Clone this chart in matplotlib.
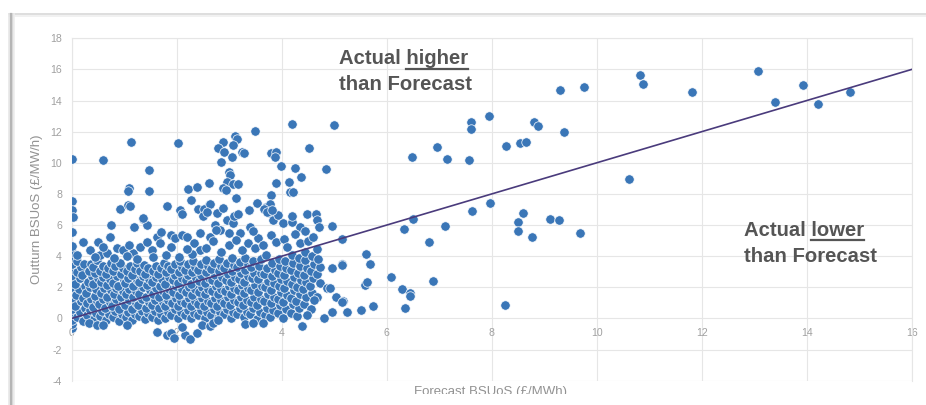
import matplotlib
matplotlib.use("Agg")
import matplotlib.pyplot as plt
from matplotlib.lines import Line2D
from matplotlib.patches import Rectangle

plt.rcParams['font.family'] = ['Liberation Sans', 'DejaVu Sans']

# ---------------- data ----------------
x_ticks = [0, 2, 4, 6, 8, 10, 12, 14, 16]
x_tick_labels = ["0", "2", "4", "6", "8", "10", "12", "14", "16"]
y_ticks = [-4, -2, 0, 2, 4, 6, 8, 10, 12, 14, 16, 18]
y_tick_labels = ["-4", "-2", "0", "2", "4", "6", "8", "10", "12", "14", "16", "18"]

x_label = "Forecast BSUoS (£/MWh)"
y_label = "Outturn BSUoS (£/MW/h)"

# parity line (actual = forecast)
parity_x = [0, 16]
parity_y = [0, 16]

# bulk of the settlement periods: (forecast, outturn)
core_points = [
    # forecast 0 - 0.25
    (0.0, -0.62), (0.0, -0.36), (0.0, -0.08), (0.0, 0.27), (0.0, 0.58), (0.0, 0.97),
    (0.0, 1.28), (0.0, 1.7), (0.0, 2.02), (0.0, 2.43), (0.0, 2.75), (0.0, 3.18),
    (0.0, 3.48), (0.0, 3.92), (0.0, 4.3),
    (0.1, 0.07), (0.15, 0.4), (0.07, 0.83), (0.17, 1.1), (0.09, 1.52), (0.13, 1.86),
    (0.06, 2.24), (0.16, 2.58), (0.1, 3.0), (0.18, 3.3), (0.11, 3.68),
    (0.22, -0.16), (0.25, 0.66), (0.21, 1.33), (0.26, 2.07), (0.2, 2.81), (0.24, 3.47),
    # 0.25 - 0.5
    (0.3, 0.2), (0.34, 0.52), (0.29, 0.97), (0.37, 1.27), (0.28, 1.64), (0.35, 2.03),
    (0.31, 2.36), (0.38, 2.75), (0.32, 3.08), (0.36, 3.53),
    (0.43, -0.03), (0.46, 0.37), (0.4, 0.72), (0.49, 1.14), (0.44, 1.46), (0.47, 1.88),
    (0.41, 2.19), (0.5, 2.57), (0.45, 2.9), (0.4, 3.29), (0.48, 3.73),
    # 0.5 - 0.75
    (0.54, 0.14), (0.58, 0.47), (0.52, 0.9), (0.6, 1.23), (0.55, 1.62), (0.61, 1.96),
    (0.56, 2.37), (0.59, 2.68), (0.53, 3.07), (0.6, 3.4),
    (0.66, -0.12), (0.71, 0.31), (0.64, 0.66), (0.73, 1.07), (0.68, 1.41), (0.74, 1.8),
    (0.67, 2.13), (0.72, 2.54), (0.65, 2.86), (0.7, 3.24), (0.75, 3.58),
    # 0.75 - 1.0
    (0.79, 0.09), (0.83, 0.49), (0.77, 0.83), (0.84, 1.22), (0.8, 1.56), (0.85, 1.97),
    (0.78, 2.28), (0.86, 2.7), (0.79, 3.03), (0.83, 3.4),
    (0.91, -0.16), (0.96, 0.26), (0.9, 0.63), (0.98, 1.04), (0.93, 1.36), (0.97, 1.77),
    (0.89, 2.1), (0.99, 2.5), (0.94, 2.83), (0.98, 3.22), (0.92, 3.56),
    # 1.0 - 1.25
    (1.03, 0.11), (1.08, 0.44), (1.01, 0.84), (1.09, 1.17), (1.04, 1.57), (1.1, 1.89),
    (1.02, 2.3), (1.07, 2.6), (1.05, 3.02), (1.11, 3.34),
    (1.15, -0.13), (1.2, 0.29), (1.14, 0.63), (1.22, 1.02), (1.16, 1.37), (1.23, 1.74),
    (1.17, 2.08), (1.24, 2.47), (1.15, 2.79), (1.21, 3.17), (1.25, 3.54),
    # 1.25 - 1.5
    (1.28, 0.13), (1.33, 0.51), (1.27, 0.86), (1.34, 1.24), (1.29, 1.58), (1.35, 1.99),
    (1.28, 2.31), (1.36, 2.72), (1.3, 3.04), (1.37, 3.43),
    (1.4, -0.06), (1.46, 0.32), (1.41, 0.68), (1.48, 1.07), (1.42, 1.41), (1.49, 1.8),
    (1.43, 2.14), (1.47, 2.53), (1.4, 2.87), (1.46, 3.26),
    # 1.5 - 1.75
    (1.53, 0.11), (1.58, 0.46), (1.52, 0.87), (1.59, 1.19), (1.54, 1.6), (1.6, 1.93),
    (1.53, 2.32), (1.61, 2.66), (1.55, 3.04), (1.6, 3.39),
    (1.65, -0.09), (1.71, 0.29), (1.66, 0.64), (1.73, 1.04), (1.67, 1.38), (1.74, 1.77),
    (1.68, 2.11), (1.72, 2.52), (1.65, 2.84), (1.71, 3.22), (1.75, 3.58),
    # 1.75 - 2.0
    (1.78, 0.06), (1.83, 0.43), (1.77, 0.79), (1.84, 1.17), (1.79, 1.51), (1.85, 1.92),
    (1.78, 2.24), (1.86, 2.64), (1.8, 2.97), (1.84, 3.37),
    (1.9, 0.21), (1.96, 0.58), (1.91, 0.99), (1.98, 1.31), (1.92, 1.72), (1.99, 2.06),
    (1.93, 2.46), (1.97, 2.79), (1.9, 3.17), (1.96, 3.5),
    # 2.0 - 2.25
    (2.03, 0.03), (2.08, 0.39), (2.02, 0.8), (2.09, 1.13), (2.04, 1.52), (2.1, 1.86),
    (2.03, 2.27), (2.11, 2.59), (2.05, 2.97), (2.1, 3.31), (2.06, 3.71),
    (2.15, 0.21), (2.21, 0.57), (2.16, 0.97), (2.23, 1.31), (2.17, 1.72), (2.24, 2.04),
    (2.18, 2.44), (2.22, 2.77), (2.15, 3.14), (2.21, 3.49),
    # 2.25 - 2.5
    (2.28, 0.01), (2.33, 0.37), (2.27, 0.77), (2.34, 1.11), (2.29, 1.52), (2.35, 1.86),
    (2.28, 2.24), (2.36, 2.59), (2.3, 2.97), (2.35, 3.29), (2.31, 3.69),
    (2.4, 0.19), (2.46, 0.54), (2.41, 0.94), (2.48, 1.29), (2.42, 1.7), (2.49, 2.03),
    (2.43, 2.42), (2.47, 2.77), (2.4, 3.14), (2.46, 3.49),
    # 2.5 - 2.75
    (2.53, 0.06), (2.58, 0.39), (2.52, 0.8), (2.59, 1.14), (2.54, 1.54), (2.6, 1.88),
    (2.53, 2.27), (2.61, 2.6), (2.55, 3.0), (2.6, 3.34), (2.56, 3.76),
    (2.65, 0.23), (2.71, 0.59), (2.66, 1.0), (2.73, 1.34), (2.67, 1.74), (2.74, 2.07),
    (2.68, 2.47), (2.72, 2.81), (2.65, 3.2), (2.71, 3.54),
    # 2.75 - 3.0
    (2.78, 0.06), (2.83, 0.41), (2.77, 0.82), (2.84, 1.17), (2.79, 1.57), (2.85, 1.91),
    (2.78, 2.3), (2.86, 2.64), (2.8, 3.02), (2.85, 3.37), (2.81, 3.79),
    (2.9, 0.26), (2.96, 0.61), (2.91, 1.02), (2.98, 1.37), (2.92, 1.77), (2.99, 2.11),
    (2.93, 2.5), (2.97, 2.84), (2.9, 3.24), (2.96, 3.59),
    # 3.0 - 3.25
    (3.03, 0.06), (3.08, 0.44), (3.02, 0.84), (3.09, 1.19), (3.04, 1.6), (3.1, 1.94),
    (3.03, 2.34), (3.11, 2.69), (3.05, 3.07), (3.1, 3.41), (3.06, 3.86),
    (3.15, 0.26), (3.21, 0.64), (3.16, 1.04), (3.23, 1.39), (3.17, 1.8), (3.24, 2.14),
    (3.18, 2.54), (3.22, 2.89), (3.15, 3.3), (3.21, 3.64),
    # 3.25 - 3.5
    (3.28, 0.09), (3.33, 0.44), (3.27, 0.87), (3.34, 1.21), (3.29, 1.62), (3.35, 1.97),
    (3.28, 2.37), (3.36, 2.71), (3.3, 3.12), (3.35, 3.49), (3.31, 3.91),
    (3.4, 0.29), (3.46, 0.64), (3.41, 1.07), (3.48, 1.41), (3.42, 1.82), (3.49, 2.17),
    (3.43, 2.57), (3.47, 2.91), (3.41, 3.32), (3.46, 3.71),
    # 3.5 - 3.75
    (3.53, -0.05), (3.58, 0.4), (3.52, 0.85), (3.6, 1.25), (3.55, 1.7), (3.62, 2.1),
    (3.54, 2.52), (3.6, 2.95), (3.56, 3.35), (3.61, 3.8),
    (3.68, 0.2), (3.72, 0.7), (3.66, 1.1), (3.73, 1.55), (3.69, 2.0), (3.74, 2.4),
    (3.67, 2.85), (3.72, 3.25), (3.7, 4.1),
    # 3.75 - 4.0
    (3.78, 0.1), (3.83, 0.55), (3.79, 1.0), (3.85, 1.4), (3.8, 1.85), (3.86, 2.25),
    (3.81, 2.7), (3.87, 3.1), (3.82, 3.55),
    (3.93, 0.35), (3.97, 0.85), (3.92, 1.25), (3.98, 1.7), (3.94, 2.1), (3.99, 2.55),
    (3.93, 2.95), (3.97, 3.4), (3.95, 3.85),
    # 4.0 - 4.25
    (4.03, 0.05), (4.08, 0.6), (4.02, 1.05), (4.1, 1.5), (4.05, 1.95), (4.11, 2.4),
    (4.04, 2.8), (4.09, 3.25), (4.06, 3.7),
    (4.18, 0.35), (4.22, 0.9), (4.17, 1.3), (4.23, 1.8), (4.19, 2.2), (4.24, 2.65),
    (4.18, 3.1), (4.22, 3.55), (4.2, 4.1),
    # 4.25 - 4.5
    (4.29, 0.15), (4.33, 0.7), (4.28, 1.15), (4.35, 1.6), (4.3, 2.05), (4.36, 2.5),
    (4.31, 2.95), (4.35, 3.4), (4.32, 3.9),
    (4.42, 0.95), (4.46, 1.4), (4.41, 1.9), (4.47, 2.35), (4.43, 2.8), (4.48, 3.25),
    (4.44, 3.75), (4.45, 4.25),
    # 4.5 - 4.75
    (4.55, 0.6), (4.58, 1.65), (4.53, 2.1), (4.6, 2.6), (4.56, 3.05), (4.62, 3.5),
    (4.57, 4.0), (4.68, 1.35), (4.72, 2.25), (4.67, 2.85), (4.73, 3.3), (4.7, 3.85),
]

# periods away from the bulk: (forecast, outturn)
scattered_points = [
    # just above the bulk, low forecasts
    (0.0, 5.53), (0.0, 4.68), (0.21, 4.93), (0.1, 4.07), (0.75, 6.0), (1.19, 5.9),
    (1.35, 6.39), (1.43, 6.0), (0.51, 4.93), (0.73, 5.25), (0.86, 4.5), (0.35, 4.4),
    (0.54, 4.07), (0.67, 4.18), (0.98, 4.4), (1.17, 4.18), (1.3, 4.61), (1.43, 4.93),
    (1.62, 5.25), (1.68, 4.82), (1.52, 4.4), (1.71, 5.53), (1.9, 5.36), (1.97, 5.15),
    (2.1, 5.36), (2.19, 5.25), (2.32, 4.82), (2.44, 4.4), (0.45, 3.95), (0.8, 3.9),
    (1.05, 4.0), (1.25, 3.85), (1.55, 3.95), (1.8, 4.1), (2.05, 3.95), (2.3, 4.15),
    (0.6, 4.6), (1.1, 4.75), (1.9, 4.6), (2.2, 4.45),
    (2.62, 7.29), (2.76, 6.75), (2.44, 5.47), (2.63, 5.25), (2.73, 6.0), (2.82, 5.68),
    (2.95, 6.32), (3.08, 6.11), (3.21, 5.47), (3.4, 5.9), (3.52, 7.4), (3.71, 7.18),
    (3.78, 6.75), (3.84, 6.32), (3.93, 6.65), (4.03, 6.11), (4.19, 6.22), (4.35, 5.9),
    (2.55, 4.55), (2.7, 4.95), (2.85, 4.3), (3.0, 4.7), (3.12, 5.05), (3.25, 4.4),
    (3.35, 4.85), (3.5, 4.5), (3.55, 5.2), (3.65, 4.75), (3.8, 5.35), (3.9, 4.9),
    (4.05, 5.1), (4.1, 4.6), (4.25, 5.4), (4.35, 4.85), (4.45, 5.6), (4.5, 4.95),
    (4.6, 5.25), (4.68, 4.45), (3.45, 5.6), (3.0, 5.5), (2.75, 5.7), (4.2, 6.6),
    # upper band
    (0.0, 10.26), (0.60, 10.16), (1.13, 11.33), (2.03, 11.29), (1.47, 9.52),
    (1.10, 8.38), (1.08, 8.21), (1.47, 8.19), (0.0, 7.57), (0.0, 6.97), (0.03, 6.55),
    (0.92, 7.02), (1.08, 7.29), (1.11, 7.23), (1.81, 7.21), (1.35, 6.48), (2.06, 6.97),
    (2.10, 6.74), (2.22, 8.32), (2.38, 8.43), (2.61, 8.69), (2.28, 7.62), (2.40, 7.02),
    (2.52, 7.06), (2.51, 6.59),
    (4.19, 12.51), (5.0, 12.4), (3.49, 12.06), (3.11, 11.72), (3.15, 11.5), (2.89, 11.35),
    (3.08, 11.16), (2.78, 10.95), (2.91, 10.67), (3.05, 10.37), (3.24, 10.67), (3.29, 10.63),
    (2.84, 10.03), (3.80, 10.65), (3.90, 10.67), (3.88, 10.37), (3.98, 9.79), (4.52, 10.95),
    (4.26, 9.69), (4.85, 9.6), (4.37, 9.07), (3.0, 9.41), (3.02, 9.2), (2.96, 8.75),
    (3.08, 8.64), (3.16, 8.64), (2.88, 8.38), (2.94, 8.26), (3.90, 8.71), (4.13, 8.79),
    (3.80, 7.96), (4.15, 8.11), (4.21, 8.13), (3.12, 7.72), (2.64, 7.38), (3.38, 6.95),
    (3.77, 7.36), (3.66, 7.04), (3.72, 6.87), (3.82, 6.97), (4.49, 6.74), (4.65, 6.7),
    (2.58, 6.87), (2.88, 7.08), (3.10, 6.59), (3.16, 6.7), (4.67, 6.33), (4.71, 5.87),
    (4.95, 5.97),
    # below zero
    (1.62, -0.85), (1.81, -1.07), (1.9, -0.96), (1.94, -1.28), (2.16, -1.07),
    (2.25, -1.34), (2.38, -0.96), (2.1, -0.53), (2.48, -0.42), (2.63, -0.49),
    (2.7, -0.31), (2.79, -0.1), (3.3, -0.36), (3.46, -0.31), (3.65, -0.27),
    (4.38, -0.49), (0.32, -0.31), (0.48, -0.42), (0.6, -0.42), (1.05, -0.42),
    # right edge of the bulk
    (5.15, 3.49), (5.14, 5.12), (4.95, 3.21), (5.03, 1.35), (5.16, 1.1), (4.96, 0.42),
    (4.81, 0.05), (4.86, 1.96), (4.61, 1.2), (4.49, 0.24), (5.24, 0.39), (5.51, 0.52),
    (5.73, 0.82), (5.59, 2.15), (5.63, 2.36), (5.69, 3.49), (5.60, 4.13), (4.92, 1.93),
    (5.14, 3.42), (5.14, 1.07),
    # high forecasts
    (6.09, 2.68), (6.30, 1.91), (6.44, 1.63), (6.45, 1.42), (6.34, 0.69), (6.33, 5.74),
    (6.50, 6.4), (6.81, 4.94), (6.89, 2.42), (7.11, 5.95), (7.62, 6.93), (7.96, 7.44),
    (8.26, 0.86), (8.60, 6.78), (8.50, 6.2), (8.51, 5.65), (8.76, 5.22), (9.11, 6.38),
    (9.29, 6.33), (9.69, 5.46), (6.49, 10.37), (6.96, 11.03), (7.14, 10.27), (7.57, 10.2),
    (7.61, 12.62), (7.60, 12.19), (7.94, 12.98), (8.27, 11.08), (8.53, 11.27), (8.66, 11.33),
    (8.80, 12.59), (8.88, 12.34), (9.38, 11.95), (9.30, 14.65), (9.75, 14.84), (10.62, 8.98),
    (10.82, 15.67), (10.89, 15.07), (11.82, 14.58), (13.08, 15.9), (13.40, 13.9),
    (13.92, 15.03), (14.21, 13.77), (14.82, 14.56),
]

forecast = [p[0] for p in core_points] + [p[0] for p in scattered_points]
outturn = [p[1] for p in core_points] + [p[1] for p in scattered_points]

# ---------------- figure ----------------
W, H = 926, 405
fig = plt.figure(figsize=(W / 100, H / 100), dpi=100)
fig.patch.set_facecolor('white')


def fx(px):
    return px / W


def fy(py):
    return 1 - py / H


ax = fig.add_axes([fx(71.7), fy(380.7), fx(911.7) - fx(71.7), fy(38.3) - fy(380.7)])
ax.set_xlim(0, 16)
ax.set_ylim(-4, 18)
ax.set_axisbelow(True)
ax.grid(True, color='#e6e6e6', linewidth=0.8)

for side in ('left', 'right', 'top'):
    ax.spines[side].set_color('#e6e6e6')
    ax.spines[side].set_linewidth(0.8)
ax.spines['bottom'].set_position(('data', 0))
ax.spines['bottom'].set_visible(False)

ax.set_xticks(x_ticks)
ax.set_xticklabels(x_tick_labels)
ax.set_yticks(y_ticks)
ax.set_yticklabels(y_tick_labels)
ax.tick_params(axis='both', length=0, labelsize=7.6, labelcolor='#a0a0a0')
ax.tick_params(axis='x', pad=7)
ax.tick_params(axis='y', pad=7)

ax.scatter(forecast, outturn, s=46, color='#3a76b7', edgecolors='white',
           linewidths=0.5, zorder=3)
ax.plot(parity_x, parity_y, color='#4a3b7c', linewidth=1.2, zorder=4)

# axis titles
fig.text(fx(37), fy(209), y_label, rotation=90, ha='center', va='center',
         fontsize=9.5, color='#929292')
fig.text(fx(491), fy(395), x_label, ha='center', va='baseline',
         fontsize=9.5, color='#929292', zorder=1)
# the bottom strip of the panel hides the lower part of the x title
fig.add_artist(Rectangle((fx(14), 0), 1, fy(394), transform=fig.transFigure,
                         facecolor='white', edgecolor='none', zorder=10))

# region annotations
note_kw = dict(fontsize=14.6, fontweight='bold', color='#555555', va='baseline', ha='left')
t1 = fig.text(fx(339), fy(64.5), "Actual higher", **note_kw)
fig.text(fx(339), fy(89.5), "than Forecast", **note_kw)
t2 = fig.text(fx(744), fy(236), "Actual lower", **note_kw)
fig.text(fx(744), fy(261.5), "than Forecast", **note_kw)

fig.canvas.draw()
renderer = fig.canvas.get_renderer()


def underline(full_text, word, baseline_py):
    probe = fig.text(0, 0, word, **note_kw)
    w = probe.get_window_extent(renderer).width
    probe.remove()
    bb = full_text.get_window_extent(renderer)
    x1 = bb.x1
    x0 = x1 - w
    y = fy(baseline_py + 4.2)
    fig.add_artist(Line2D([x0 / W, x1 / W], [y, y], transform=fig.transFigure,
                          color='#555555', linewidth=1.6))


underline(t1, "higher", 64.5)
underline(t2, "lower", 236)

# panel edge with soft shadow
for off, col, lw in [(0, '#dedede', 1.4), (2, '#efefef', 1.2)]:
    fig.add_artist(Line2D([fx(9), 1], [fy(13.5 + off), fy(13.5 + off)],
                          transform=fig.transFigure, color=col, linewidth=lw, zorder=11))
for off, col, lw in [(-2, '#e8e8e8', 1.2), (0, '#b5b5b5', 1.6), (2, '#d6d6d6', 1.4), (4, '#eeeeee', 1.2)]:
    fig.add_artist(Line2D([fx(10.5 + off), fx(10.5 + off)], [0, fy(13.5)],
                          transform=fig.transFigure, color=col, linewidth=lw, zorder=11))

fig.savefig('out.png', dpi=100, facecolor='white')
